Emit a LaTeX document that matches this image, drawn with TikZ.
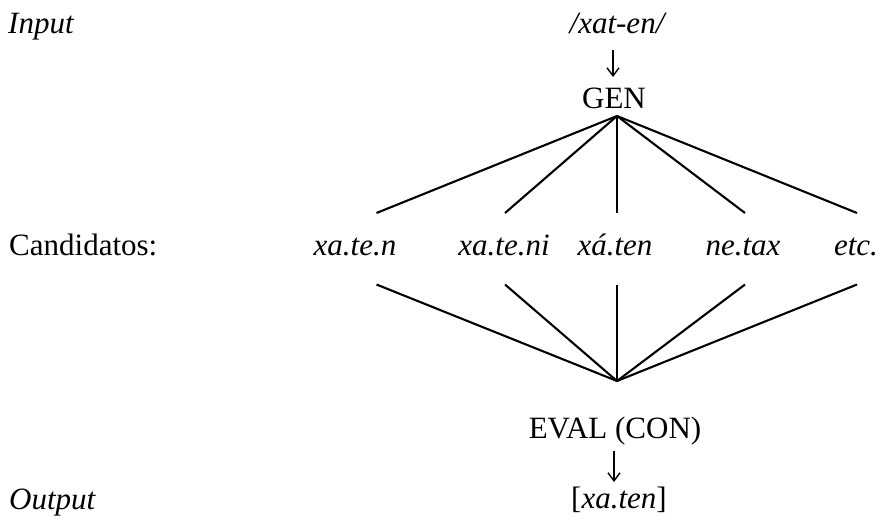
\documentclass[tikz,border=0pt]{standalone}
\usepackage{fontspec}
\setmainfont{Liberation Serif}
\usetikzlibrary{arrows.meta}
\begin{document}
\begin{tikzpicture}[x=1pt,y=-1pt,
  txt/.style={inner sep=0pt,anchor=base,font=\fontsize{31}{37}\selectfont},
  ltxt/.style={txt,anchor=base west},
  link/.style={line width=2.1pt},
  down/.style={line width=1.4pt,-{Straight Barb[length=8pt,width=12pt,line width=1.4pt]}}]
\useasboundingbox (0,0) rectangle (878,517);
% left labels
\node[ltxt] (input) at (8,33) {\itshape Input};
\node[ltxt] (cands) at (9,255) {Candidatos:};
\node[ltxt] (output) at (9,509) {\itshape Output};
% top column
\node[txt] (urf) at (617,33) {\itshape /xat-en/};
\node[txt] (gen) at (614,108) {GEN};
% candidates
\node[txt] (c1) at (355,255) {\itshape xa.te.n};
\node[txt] (c2) at (504,255) {\itshape xa.te.ni};
\node[txt] (c3) at (615,255) {\itshape xá.ten};
\node[txt] (c4) at (743,255) {\itshape ne.tax};
\node[txt] (c5) at (856,255) {\itshape etc.};
% bottom column
\node[txt] (eval) at (615,438) {EVAL (CON)};
\node[txt] (out) at (619,508) {[\textit{xa.ten}]};
% down arrows
\coordinate (a1s) at (613,50);
\coordinate (a1e) at (613,77);
\coordinate (a2s) at (614,451);
\coordinate (a2e) at (614,482);
\draw[down] (a1s) -- (a1e);
\draw[down] (a2s) -- (a2e);
% coordinates for connectors
\coordinate (top) at (617,116);
\coordinate (bot) at (617,381);
\coordinate (t1) at (376.5,213);
\coordinate (t2) at (505,213);
\coordinate (t3) at (617,213);
\coordinate (t4) at (745,213);
\coordinate (t5) at (857,213);
\coordinate (b1) at (376.5,284.5);
\coordinate (b2) at (505,284.5);
\coordinate (b3) at (617,284.5);
\coordinate (b4) at (745,284.5);
\coordinate (b5) at (857,284.5);
\foreach \i in {1,...,5} {
  \draw[link] (top) -- (t\i);
  \draw[link] (b\i) -- (bot);
}
\end{tikzpicture}
\end{document}
